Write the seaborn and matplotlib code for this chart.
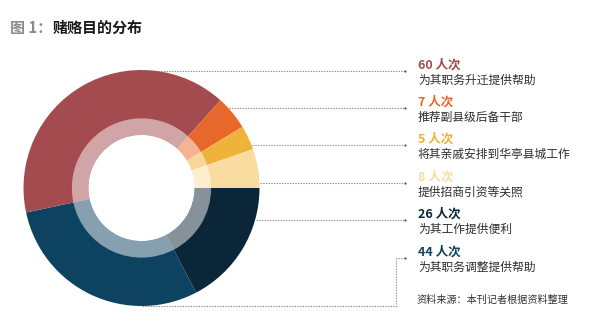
import numpy as np
import matplotlib
matplotlib.use("Agg")
import matplotlib.pyplot as plt
import seaborn as sns

# Bribery purposes (persons/times) in legend order, top to bottom
counts = [60, 7, 5, 8, 26, 44]
purposes = [
    "为其职务升迁提供帮助",
    "推荐副县级后备干部",
    "将其亲戚安排到华亭县城工作",
    "提供招商引资等关照",
    "为其工作提供便利",
    "为其职务调整提供帮助",
]
unit = "人次"
title_prefix = "图 1："
title_main = "赌赂目的分布"
source_note = "资料来源：本刊记者根据资料整理"

colors = ["#A34B4F", "#E8682C", "#EFB23A", "#F9DDA0", "#0B2639", "#0D4260"]
# slices run clockwise from 3 o'clock starting with the 26-count slice
pie_order = [4, 5, 0, 1, 2, 3]

sns.set_theme(style="white")
plt.rcParams["font.family"] = ["Noto Sans CJK SC", "DejaVu Sans"]

W, H = 600, 333
fig = plt.figure(figsize=(6.0, 3.33), dpi=100)
fig.patch.set_facecolor("white")

# donut geometry in pixels
cx, cy, R = 141.5, 188.0, 118.0
ax = fig.add_axes([(cx - R) / W, (H - cy - R) / H, 2 * R / W, 2 * R / H])
vals = [counts[i] for i in pie_order]
cols = [colors[i] for i in pie_order]
ax.pie(vals, colors=cols, startangle=0, counterclock=False, radius=1.0,
       wedgeprops=dict(width=1.0 - 0.45, linewidth=0))
# translucent inner ring
ax.pie(vals, colors=["white"] * len(vals), startangle=0, counterclock=False,
       radius=0.59, wedgeprops=dict(width=0.59 - 0.45, linewidth=0, alpha=0.5))
ax.set_xlim(-1, 1)
ax.set_ylim(-1, 1)
ax.set_aspect("equal")
ax.axis("off")

# overlay in pixel coordinates for text and leader lines
ov = fig.add_axes([0, 0, 1, 1])
ov.set_xlim(0, W)
ov.set_ylim(H, 0)
ov.axis("off")
ov.patch.set_alpha(0)

ov.text(10, 28, title_prefix, fontsize=10.8, fontweight="bold", color="#8A8A8A",
        va="center", ha="left")
ov.text(53, 28, title_main, fontsize=10.8, fontweight="bold", color="#1A1A1A",
        va="center", ha="left")

text_x = 418
row_top = [65, 102, 139, 177, 214, 252]
dot_x = 405
line_kw = dict(color="#8C8C8C", lw=0.8, linestyle=(0, (1.2, 1.2)))
for k, (n, p, c, y0) in enumerate(zip(counts, purposes, colors, row_top)):
    ov.text(text_x, y0, f"{n} {unit}", fontsize=9, fontweight="bold", color=c,
            va="center", ha="left")
    ov.text(text_x, y0 + 15, p, fontsize=8.5, color="#2E2E2E",
            va="center", ha="left")
    ly = y0 + 6
    if k < len(counts) - 1:
        dy = ly - cy
        x_start = cx + np.sqrt(max(R * R - dy * dy, 0.0)) + 1
        x_start = max(x_start, 155)
        ov.plot([x_start, dot_x], [ly, ly], **line_kw)
    else:
        bend_x = 396
        ov.plot([cx, bend_x, bend_x, dot_x], [cy + R, cy + R, ly, ly], **line_kw)
    ov.plot([dot_x], [ly], marker="o", ms=1.6, color="#555555", mew=0)

ov.text(416, 300, source_note, fontsize=7.3, color="#333333", va="center", ha="left")

fig.savefig("out.png", dpi=100, facecolor="white")
